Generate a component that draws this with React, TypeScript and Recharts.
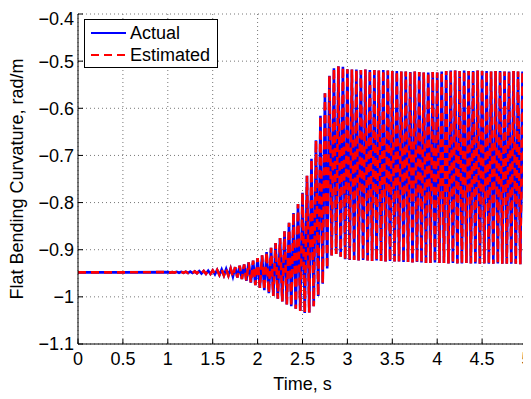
import {
  LineChart,
  Line,
  XAxis,
  YAxis,
  CartesianGrid,
  Legend,
} from "recharts";

// flat part before the oscillation starts
const flatTimes = [0, 0.5];
const flatLevel = [-0.948, -0.948];

// oscillation: one peak and one trough per cycle (~20 Hz)
const cycleStart = 1.0;
const cyclePeriod = 0.05;

const actualPeaks = [
  -0.9475, -0.9475, -0.947, -0.947, -0.9465, -0.9465, -0.946, -0.9455, -0.945, -0.9445,
  -0.944, -0.943, -0.942, -0.941, -0.94, -0.937, -0.934, -0.931, -0.927, -0.923,
  -0.918, -0.912, -0.905, -0.896, -0.886, -0.875, -0.861, -0.843, -0.822, -0.803,
  -0.779, -0.743, -0.707, -0.668, -0.616, -0.568, -0.531, -0.515, -0.511, -0.512,
  -0.517, -0.518, -0.518, -0.519, -0.518, -0.519, -0.519, -0.52, -0.519, -0.52,
  -0.521, -0.521, -0.522, -0.522, -0.523, -0.522, -0.523, -0.524, -0.524, -0.523,
  -0.524, -0.522, -0.521, -0.52, -0.52, -0.521, -0.52, -0.521, -0.521, -0.52,
  -0.521, -0.521, -0.522, -0.521, -0.521, -0.522, -0.522, -0.521, -0.522, -0.522,
  -0.522,
];

const actualTroughs = [
  -0.9485, -0.9485, -0.949, -0.949, -0.9495, -0.9495, -0.95, -0.9505, -0.951, -0.9515,
  -0.952, -0.9535, -0.9545, -0.955, -0.957, -0.959, -0.962, -0.966, -0.97, -0.975,
  -0.981, -0.986, -0.992, -0.998, -1.004, -1.01, -1.016, -1.02, -1.025, -1.03,
  -1.034, -1.033, -1.02, -0.998, -0.972, -0.94, -0.912, -0.909, -0.915, -0.92,
  -0.922, -0.922, -0.923, -0.922, -0.923, -0.924, -0.923, -0.924, -0.925, -0.924,
  -0.925, -0.925, -0.926, -0.926, -0.927, -0.926, -0.927, -0.928, -0.928, -0.927,
  -0.928, -0.928, -0.929, -0.928, -0.929, -0.929, -0.928, -0.929, -0.929, -0.93,
  -0.929, -0.93, -0.93, -0.929, -0.93, -0.93, -0.93, -0.93, -0.931, -0.93,
];

// the estimate sits on top of the actual curve
const estimatedPeaks = actualPeaks;
const estimatedTroughs = actualTroughs;

const xTicks = [0, 0.5, 1, 1.5, 2, 2.5, 3, 3.5, 4, 4.5, 5];
const yTicks = [-1.1, -1, -0.9, -0.8, -0.7, -0.6, -0.5, -0.4];

const data: { t: number; actual: number; estimated: number }[] = flatTimes.map(
  (t, i) => ({ t, actual: flatLevel[i], estimated: flatLevel[i] })
);
actualPeaks.forEach((v, i) => {
  const t = cycleStart + i * cyclePeriod;
  data.push({ t, actual: v, estimated: estimatedPeaks[i] });
  if (i < actualTroughs.length) {
    data.push({
      t: t + cyclePeriod / 2,
      actual: actualTroughs[i],
      estimated: estimatedTroughs[i],
    });
  }
});

const font = "'Liberation Sans', Arial, Helvetica, sans-serif";
const tickStyle = { fontSize: 18, fill: "#000", fontFamily: font };
const fmtY = (v: number) => (v < 0 ? "\u2212" : "") + String(Math.abs(v));
const blank = () => "";

function LegendBox({ payload }: any) {
  return (
    <div
      style={{
        display: "inline-block",
        border: "1px solid #000",
        background: "#fff",
        padding: "2px 7px 1px 6px",
        fontSize: 18,
        lineHeight: "22px",
        fontFamily: font,
        color: "#000",
      }}
    >
      {(payload || []).map((p: any) => (
        <div key={p.value} style={{ display: "flex", alignItems: "center" }}>
          <svg width={35} height={22}>
            <line
              x1={0}
              y1={11}
              x2={35}
              y2={11}
              stroke={p.color}
              strokeWidth={2}
              strokeDasharray={p.payload?.strokeDasharray}
            />
          </svg>
          <span style={{ marginLeft: 4 }}>{p.value}</span>
        </div>
      ))}
    </div>
  );
}

export default function App() {
  return (
    <div style={{ fontFamily: font }}>
      <LineChart
        width={523}
        height={391}
        data={data}
        margin={{ top: 6, right: 4, bottom: 0, left: 0 }}
      >
        <CartesianGrid stroke="#777" strokeDasharray="1 3" />
        <XAxis
          dataKey="t"
          type="number"
          domain={[0, 5]}
          ticks={xTicks}
          height={55}
          stroke="#000"
          tickSize={-5}
          tickMargin={13}
          tick={tickStyle}
          label={{
            value: "Time, s",
            position: "insideBottom",
            offset: 9,
            fontSize: 18,
            fill: "#000",
          }}
        />
        <XAxis
          xAxisId="top"
          orientation="top"
          dataKey="t"
          type="number"
          domain={[0, 5]}
          ticks={xTicks}
          height={0}
          stroke="#000"
          tickSize={-5}
          tickFormatter={blank}
        />
        <YAxis
          type="number"
          domain={[-1.1, -0.4]}
          ticks={yTicks}
          width={70}
          stroke="#000"
          tickSize={-5}
          tickMargin={9}
          tick={tickStyle}
          tickFormatter={fmtY}
          label={{
            value: "Flat Bending Curvature, rad/m",
            angle: -90,
            position: "insideLeft",
            offset: 9,
            fontSize: 18,
            fill: "#000",
            style: { textAnchor: "middle" },
          }}
        />
        <YAxis
          yAxisId="right"
          orientation="right"
          type="number"
          domain={[-1.1, -0.4]}
          ticks={yTicks}
          width={0}
          stroke="#000"
          tickSize={-5}
          tickFormatter={blank}
        />
        <Legend
          layout="vertical"
          align="center"
          verticalAlign="middle"
          content={<LegendBox />}
          wrapperStyle={{ left: 76, top: 11, width: "auto" }}
        />
        <Line
          type="linear"
          dataKey="actual"
          name="Actual"
          stroke="#0000ff"
          strokeWidth={2.6}
          dot={false}
          isAnimationActive={false}
        />
        <Line
          type="linear"
          dataKey="estimated"
          name="Estimated"
          stroke="#ff0000"
          strokeWidth={2.6}
          strokeDasharray="8 5"
          dot={false}
          isAnimationActive={false}
        />
      </LineChart>
    </div>
  );
}
